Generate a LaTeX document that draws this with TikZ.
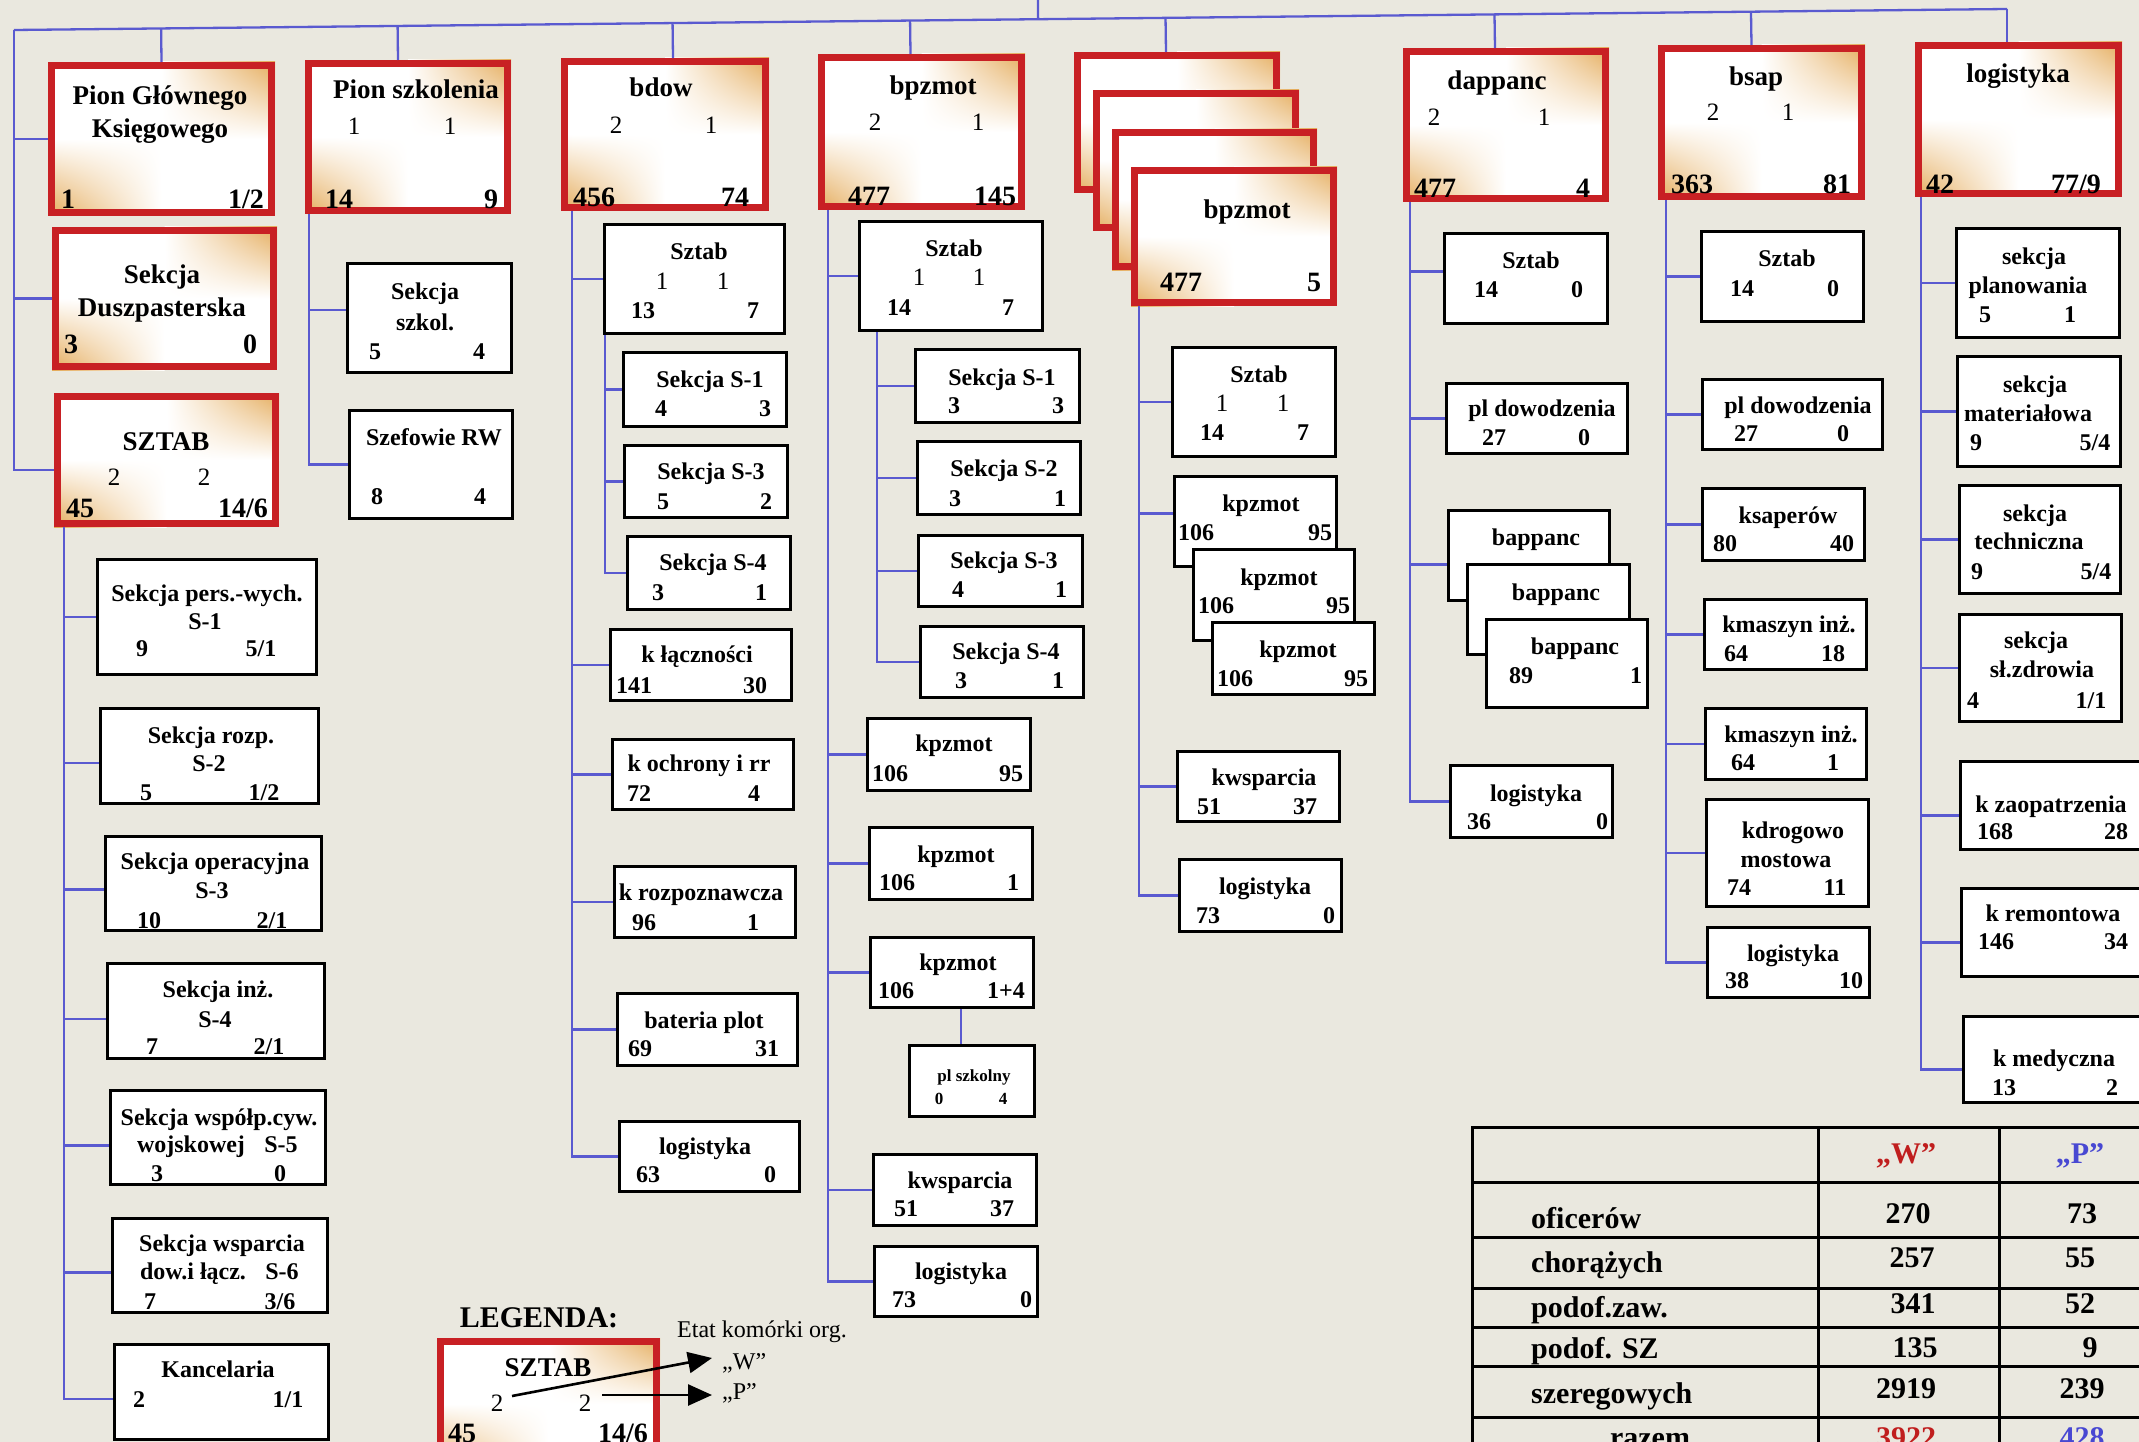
\documentclass[tikz,border=0pt]{standalone}
\usepackage{fontspec}
\setmainfont{Liberation Serif}
\usetikzlibrary{calc,arrows.meta,shadings}
\definecolor{bg}{RGB}{234,232,223}
\definecolor{rb}{RGB}{200,32,36}
\definecolor{gold}{RGB}{228,170,88}
\definecolor{ln}{RGB}{90,90,208}
\definecolor{tred}{RGB}{192,30,30}
\definecolor{tblue}{RGB}{72,72,210}
\newcommand\fsz[1]{\fontsize{#1}{#1}\selectfont}
\newcounter{tn}
\newcommand\Tx[4][bb]{\stepcounter{tn}\node[txt,#1] (t\arabic{tn}) at (#2,#3) {#4};}
\newcommand\RB[5]{%
  \fill[white] (#2,#3) rectangle (#4,#5);
  \shade[upper left=white,upper right=gold,lower left=white,lower right=white] ({(#2+#4)/2},#3) rectangle (#4,{(#3+#5)/2});
  \shade[upper left=white,upper right=white,lower left=gold,lower right=white] (#2,{(#3+#5)/2}) rectangle ({(#2+#4)/2},#5);
  \node[redbox,minimum width={(#4-#2-7)*1pt},minimum height={(#5-#3-7)*1pt}] (#1) at ({(#2+#4)/2},{(#3+#5)/2}) {};}
\newcommand\WB[5]{%
  \node[wbox,minimum width={(#4-#2-3)*1pt},minimum height={(#5-#3-3)*1pt}] (#1) at ({(#2+#4)/2},{(#3+#5)/2}) {};}
\newcommand\br[3][0]{\path (#3.west) ++(0,#1) coordinate (tmpb); \draw[conn] (#2) |- (tmpb);}
\newcommand\tick[2][0]{\path (#2.north) ++(#1,0) coordinate (tmpt); \draw[conn] (tmpt) -- ($(busL)!(tmpt)!(busR)$);}
\tikzset{
  txt/.style={inner sep=0pt, anchor=base},
  bb/.style={font=\bfseries\fsz{24}, yshift=-8pt},
  rg/.style={font=\fsz{25}, yshift=-8.3pt},
  ttl/.style={font=\bfseries\fsz{27}, yshift=-8.5pt},
  big/.style={font=\bfseries\fsz{28}, yshift=-9.3pt},
  sml/.style={font=\bfseries\fsz{17}, yshift=-5.6pt},
  tb/.style={font=\bfseries\fsz{30}, yshift=-10pt},
  lgd/.style={font=\bfseries\fsz{30}, yshift=-10pt},
  et/.style={font=\fsz{24}, yshift=-7.5pt},
  redbox/.style={draw=rb, line width=7pt, inner sep=0pt},
  wbox/.style={draw=black, fill=white, line width=3pt, inner sep=0pt},
  conn/.style={draw=ln, line width=2.3pt},
  tbl/.style={draw=black, line width=3pt},
  arr/.style={draw=black, line width=2.6pt, -{Triangle[length=24pt,width=21pt]}}
}
\begin{document}
\begin{tikzpicture}[x=1pt,y=-1pt]
\useasboundingbox (0,0) rectangle (2139,1442);
\clip (0,0) rectangle (2139,1442);
\fill[bg] (0,0) rectangle (2139,1442);

% ---------- left column ----------
\RB{pgk}{48}{62}{275}{216}
\Tx[ttl]{160}{96}{Pion Głównego}
\Tx[ttl]{160}{129}{Księgowego}
\Tx[big]{68}{199}{1}
\Tx[big]{246}{199}{1/2}
\RB{dusz}{52}{227}{277}{370}
\Tx[ttl]{162}{275}{Sekcja}
\Tx[ttl]{162}{308}{Duszpasterska}
\Tx[big]{71}{344}{3}
\Tx[big]{250}{344}{0}
\RB{sztab}{54}{393}{279}{527}
\Tx[ttl]{166}{442}{SZTAB}
\Tx[rg]{114}{477}{2}
\Tx[rg]{204}{477}{2}
\Tx[big]{80}{508}{45}
\Tx[big]{243}{508}{14/6}

\WB{s1}{96}{558}{318}{676}
\Tx{207}{593}{Sekcja pers.-wych.}
\Tx{205}{621}{S-1}
\Tx{142}{648}{9}
\Tx{261}{648}{5/1}
\WB{s2}{99}{707}{320}{805}
\Tx{211}{735}{Sekcja rozp.}
\Tx{209}{763}{S-2}
\Tx{146}{792}{5}
\Tx{264}{792}{1/2}
\WB{s3}{104}{835}{323}{932}
\Tx{215}{861}{Sekcja operacyjna}
\Tx{212}{890}{S-3}
\Tx{149}{920}{10}
\Tx{272}{920}{2/1}
\WB{s4}{106}{962}{326}{1060}
\Tx{218}{989}{Sekcja inż.}
\Tx{215}{1019}{S-4}
\Tx{152}{1046}{7}
\Tx{269}{1046}{2/1}
\WB{s5}{109}{1089}{327}{1186}
\Tx{219}{1117}{Sekcja współp.cyw.}
\Tx{191}{1144}{wojskowej}
\Tx{281}{1144}{S-5}
\Tx{157}{1173}{3}
\Tx{280}{1173}{0}
\WB{s6}{111}{1217}{329}{1314}
\Tx{222}{1243}{Sekcja wsparcia}
\Tx{193}{1271}{dow.i łącz.}
\Tx{282}{1271}{S-6}
\Tx{150}{1301}{7}
\Tx{280}{1301}{3/6}
\WB{s7}{113}{1343}{330}{1441}
\Tx{218}{1369}{Kancelaria}
\Tx{139}{1399}{2}
\Tx{288}{1399}{1/1}

% ---------- pion szkolenia ----------
\RB{psz}{305}{60}{511}{214}
\Tx[ttl]{416}{90}{Pion szkolenia}
\Tx[rg]{354}{126}{1}
\Tx[rg]{450}{126}{1}
\Tx[big]{339}{199}{14}
\Tx[big]{491}{199}{9}
\WB{sszk}{346}{262}{513}{374}
\Tx{425}{291}{Sekcja}
\Tx{425}{322}{szkol.}
\Tx{375}{351}{5}
\Tx{479}{351}{4}
\WB{szrw}{348}{409}{514}{520}
\Tx{434}{437}{Szefowie RW}
\Tx{377}{496}{8}
\Tx{480}{496}{4}

% ---------- bdow ----------
\RB{bdow}{561}{58}{769}{211}
\Tx[ttl]{661}{88}{bdow}
\Tx[rg]{616}{125}{2}
\Tx[rg]{711}{125}{1}
\Tx[big]{594}{197}{456}
\Tx[big]{735}{197}{74}
\WB{bdsz}{603}{223}{786}{335}
\Tx{699}{251}{Sztab}
\Tx[rg]{662}{281}{1}
\Tx[rg]{723}{281}{1}
\Tx{643}{310}{13}
\Tx{753}{310}{7}
\WB{bds1}{622}{351}{788}{428}
\Tx{710}{379}{Sekcja S-1}
\Tx{661}{408}{4}
\Tx{765}{408}{3}
\WB{bds3}{623}{444}{789}{519}
\Tx{711}{471}{Sekcja S-3}
\Tx{663}{501}{5}
\Tx{766}{501}{2}
\WB{bds4}{626}{535}{792}{611}
\Tx{713}{562}{Sekcja S-4}
\Tx{658}{592}{3}
\Tx{761}{592}{1}
\WB{bdkl}{609}{628}{793}{702}
\Tx{697}{654}{k łączności}
\Tx{634}{685}{141}
\Tx{755}{685}{30}
\WB{bdko}{611}{738}{795}{811}
\Tx{699}{763}{k ochrony i rr}
\Tx{639}{793}{72}
\Tx{754}{793}{4}
\WB{bdkr}{613}{865}{797}{939}
\Tx{701}{892}{k rozpoznawcza}
\Tx{644}{922}{96}
\Tx{753}{922}{1}
\WB{bdbp}{616}{992}{799}{1067}
\Tx{704}{1020}{bateria plot}
\Tx{640}{1048}{69}
\Tx{767}{1048}{31}
\WB{bdlg}{618}{1120}{801}{1193}
\Tx{705}{1146}{logistyka}
\Tx{648}{1174}{63}
\Tx{770}{1174}{0}

% ---------- bpzmot ----------
\RB{bpz}{818}{54}{1025}{210}
\Tx[ttl]{933}{86}{bpzmot}
\Tx[rg]{875}{122}{2}
\Tx[rg]{978}{122}{1}
\Tx[big]{869}{196}{477}
\Tx[big]{995}{196}{145}
\WB{bpsz}{858}{220}{1044}{332}
\Tx{954}{248}{Sztab}
\Tx[rg]{919}{277}{1}
\Tx[rg]{979}{277}{1}
\Tx{899}{307}{14}
\Tx{1008}{307}{7}
\WB{bps1}{914}{348}{1081}{424}
\Tx{1002}{377}{Sekcja S-1}
\Tx{954}{405}{3}
\Tx{1058}{405}{3}
\WB{bps2}{916}{440}{1082}{516}
\Tx{1004}{468}{Sekcja S-2}
\Tx{955}{498}{3}
\Tx{1060}{498}{1}
\WB{bps3}{917}{534}{1084}{608}
\Tx{1004}{560}{Sekcja S-3}
\Tx{958}{589}{4}
\Tx{1061}{589}{1}
\WB{bps4}{919}{625}{1085}{699}
\Tx{1006}{651}{Sekcja S-4}
\Tx{961}{680}{3}
\Tx{1058}{680}{1}
\WB{bpk1}{866}{717}{1032}{792}
\Tx{954}{743}{kpzmot}
\Tx{890}{773}{106}
\Tx{1011}{773}{95}
\WB{bpk2}{868}{826}{1034}{901}
\Tx{956}{854}{kpzmot}
\Tx{897}{882}{106}
\Tx{1013}{882}{1}
\WB{bpk3}{869}{936}{1035}{1009}
\Tx{958}{962}{kpzmot}
\Tx{896}{990}{106}
\Tx{1006}{990}{1+4}
\WB{bppl}{908}{1044}{1036}{1118}
\Tx[sml]{974}{1076}{pl szkolny}
\Tx[sml]{939}{1099}{0}
\Tx[sml]{1003}{1099}{4}
\WB{bpkw}{872}{1153}{1038}{1227}
\Tx{960}{1180}{kwsparcia}
\Tx{906}{1208}{51}
\Tx{1002}{1208}{37}
\WB{bplg}{873}{1245}{1039}{1318}
\Tx{961}{1271}{logistyka}
\Tx{904}{1299}{73}
\Tx{1026}{1299}{0}

% ---------- stacked bpzmot ----------
\RB{stA}{1074}{52}{1280}{193}
\RB{stB}{1093}{90}{1299}{231}
\RB{stC}{1112}{129}{1317}{270}
\RB{stD}{1131}{167}{1337}{306}
\Tx[ttl]{1247}{210}{bpzmot}
\Tx[big]{1181}{282}{477}
\Tx[big]{1314}{282}{5}
\WB{stsz}{1171}{346}{1337}{458}
\Tx{1259}{374}{Sztab}
\Tx[rg]{1222}{403}{1}
\Tx[rg]{1283}{403}{1}
\Tx{1212}{432}{14}
\Tx{1303}{432}{7}
\WB{stk1}{1173}{475}{1338}{568}
\Tx{1261}{503}{kpzmot}
\Tx{1196}{532}{106}
\Tx{1320}{532}{95}
\WB{stk2}{1192}{548}{1356}{642}
\Tx{1279}{577}{kpzmot}
\Tx{1216}{605}{106}
\Tx{1338}{605}{95}
\WB{stk3}{1211}{621}{1376}{696}
\Tx{1298}{649}{kpzmot}
\Tx{1235}{678}{106}
\Tx{1356}{678}{95}
\WB{stkw}{1176}{750}{1341}{823}
\Tx{1264}{777}{kwsparcia}
\Tx{1209}{806}{51}
\Tx{1305}{806}{37}
\WB{stlg}{1178}{858}{1343}{933}
\Tx{1265}{886}{logistyka}
\Tx{1208}{915}{73}
\Tx{1329}{915}{0}

% ---------- dappanc ----------
\RB{dap}{1403}{48}{1609}{202}
\Tx[ttl]{1497}{81}{dappanc}
\Tx[rg]{1434}{117}{2}
\Tx[rg]{1544}{117}{1}
\Tx[big]{1435}{188}{477}
\Tx[big]{1583}{188}{4}
\WB{dasz}{1443}{232}{1609}{325}
\Tx{1531}{261}{Sztab}
\Tx{1486}{289}{14}
\Tx{1577}{289}{0}
\WB{dapl}{1445}{382}{1629}{455}
\Tx{1542}{408}{pl dowodzenia}
\Tx{1494}{437}{27}
\Tx{1584}{437}{0}
\WB{dab1}{1447}{509}{1611}{602}
\Tx{1536}{537}{bappanc}
\WB{dab2}{1466}{563}{1631}{656}
\Tx{1556}{592}{bappanc}
\WB{dab3}{1485}{618}{1649}{709}
\Tx{1575}{646}{bappanc}
\Tx{1521}{675}{89}
\Tx{1636}{675}{1}
\WB{dalg}{1449}{764}{1614}{839}
\Tx{1536}{793}{logistyka}
\Tx{1479}{821}{36}
\Tx{1602}{821}{0}

% ---------- bsap ----------
\RB{bsap}{1658}{45}{1865}{200}
\Tx[ttl]{1756}{77}{bsap}
\Tx[rg]{1713}{112}{2}
\Tx[rg]{1788}{112}{1}
\Tx[big]{1692}{184}{363}
\Tx[big]{1837}{184}{81}
\WB{bssz}{1700}{230}{1865}{323}
\Tx{1787}{258}{Sztab}
\Tx{1742}{288}{14}
\Tx{1833}{288}{0}
\WB{bspl}{1701}{378}{1884}{451}
\Tx{1798}{405}{pl dowodzenia}
\Tx{1746}{433}{27}
\Tx{1843}{433}{0}
\WB{bsks}{1701}{487}{1866}{562}
\Tx{1788}{515}{ksaperów}
\Tx{1725}{543}{80}
\Tx{1842}{543}{40}
\WB{bsm1}{1703}{598}{1868}{671}
\Tx{1789}{624}{kmaszyn inż.}
\Tx{1736}{653}{64}
\Tx{1833}{653}{18}
\WB{bsm2}{1704}{707}{1868}{781}
\Tx{1791}{734}{kmaszyn inż.}
\Tx{1743}{762}{64}
\Tx{1833}{762}{1}
\WB{bsdm}{1705}{798}{1870}{908}
\Tx{1793}{830}{kdrogowo}
\Tx{1786}{859}{mostowa}
\Tx{1739}{887}{74}
\Tx{1835}{887}{11}
\WB{bslg}{1706}{926}{1871}{999}
\Tx{1793}{953}{logistyka}
\Tx{1737}{980}{38}
\Tx{1851}{980}{10}

% ---------- logistyka ----------
\RB{lgs}{1915}{42}{2122}{197}
\Tx[ttl]{2018}{74}{logistyka}
\Tx[big]{1940}{184}{42}
\Tx[big]{2076}{184}{77/9}
\WB{lgpl}{1955}{227}{2121}{339}
\Tx{2034}{257}{sekcja}
\Tx{2028}{285}{planowania}
\Tx{1985}{314}{5}
\Tx{2070}{314}{1}
\WB{lgma}{1956}{355}{2122}{468}
\Tx{2035}{384}{sekcja}
\Tx{2028}{413}{materiałowa}
\Tx{1976}{442}{9}
\Tx{2095}{442}{5/4}
\WB{lgte}{1958}{484}{2122}{595}
\Tx{2035}{513}{sekcja}
\Tx{2029}{541}{techniczna}
\Tx{1977}{571}{9}
\Tx{2096}{571}{5/4}
\WB{lgzd}{1958}{613}{2123}{723}
\Tx{2036}{640}{sekcja}
\Tx{2042}{669}{sł.zdrowia}
\Tx{1973}{700}{4}
\Tx{2091}{700}{1/1}
\WB{lgza}{1959}{760}{2160}{851}
\Tx{2051}{804}{k zaopatrzenia}
\Tx{1995}{831}{168}
\Tx{2116}{831}{28}
\WB{lgre}{1960}{887}{2160}{978}
\Tx{2053}{913}{k remontowa}
\Tx{1996}{941}{146}
\Tx{2116}{941}{34}
\WB{lgme}{1962}{1015}{2160}{1104}
\Tx{2054}{1058}{k medyczna}
\Tx{2004}{1087}{13}
\Tx{2112}{1087}{2}

% ---------- connectors ----------
\coordinate (busL) at (14,30);
\coordinate (busR) at (2007,9);
\coordinate (topE) at (1038,0);
\draw[conn] (busL) -- (busR);
\draw[conn] (topE) -- ($(busL)!(topE)!(busR)$);
\draw[conn] (busR) -- (busR |- lgs.north);
\tick{pgk}
\tick[-10]{psz}
\tick[8]{bdow}
\tick[-11]{bpz}
\tick[-11]{stA}
\tick[-11]{dap}
\tick[-10]{bsap}

\br{busL}{pgk}
\br{busL}{dusz}
\br[10]{busL}{sztab}

\coordinate (szT) at ([xshift=10pt]sztab.south west);
\br{szT}{s1}
\br[7]{szT}{s2}
\br[6]{szT}{s3}
\br[8]{szT}{s4}
\br[8]{szT}{s5}
\br[7]{szT}{s6}
\br[7]{szT}{s7}

\coordinate (pszT) at ([xshift=4pt]psz.south west);
\br[-8]{pszT}{sszk}
\br{pszT}{szrw}

\coordinate (bdT) at ([xshift=11pt]bdow.south west);
\br{bdT}{bdsz}
\br{bdT}{bdkl}
\br{bdT}{bdko}
\br{bdT}{bdkr}
\br{bdT}{bdbp}
\br{bdT}{bdlg}
\coordinate (bdsT) at ([xshift=2pt]bdsz.south west);
\br{bdsT}{bds1}
\br{bdsT}{bds3}
\br{bdsT}{bds4}

\coordinate (bpT) at ([xshift=10pt]bpz.south west);
\br{bpT}{bpsz}
\br{bpT}{bpk1}
\br{bpT}{bpk2}
\br{bpT}{bpk3}
\br{bpT}{bpkw}
\br{bpT}{bplg}
\coordinate (bpsT) at ([xshift=19pt]bpsz.south west);
\br{bpsT}{bps1}
\br{bpsT}{bps2}
\br{bpsT}{bps3}
\br{bpsT}{bps4}
\draw[conn] ([xshift=-11pt]bppl.north) -- ([xshift=-11pt]bppl.north |- bpk3.south);

\coordinate (stT) at ([xshift=8pt]stD.south west);
\br{stT}{stsz}
\br[-8]{stT}{stk1}
\br{stT}{stkw}
\br{stT}{stlg}

\coordinate (daT) at ([xshift=7pt]dap.south west);
\br[-7]{daT}{dasz}
\br{daT}{dapl}
\br[9]{daT}{dab1}
\br{daT}{dalg}

\coordinate (bsT) at ([xshift=8pt]bsap.south west);
\br{bsT}{bssz}
\br{bsT}{bspl}
\br{bsT}{bsks}
\br{bsT}{bsm1}
\br{bsT}{bsm2}
\br{bsT}{bsdm}
\br{bsT}{bslg}

\coordinate (lgT) at ([xshift=6pt]lgs.south west);
\br{lgT}{lgpl}
\br{lgT}{lgma}
\br{lgT}{lgte}
\br{lgT}{lgzd}
\br[10]{lgT}{lgza}
\br[10]{lgT}{lgre}
\br[10]{lgT}{lgme}

% ---------- legend ----------
\Tx[lgd]{539}{1317}{LEGENDA:}
\RB{leg}{437}{1338}{660}{1470}
\Tx[ttl]{548}{1368}{SZTAB}
\node[txt,rg] (lg2a) at (497,1403) {2};
\node[txt,rg] (lg2b) at (585,1403) {2};
\Tx[big]{462}{1433}{45}
\Tx[big]{623}{1433}{14/6}
\Tx[et]{762}{1330}{Etat komórki org.}
\node[txt,et,anchor=base west] (lgW) at (722,1362) {„W”};
\node[txt,et,anchor=base west] (lgP) at (722,1392) {„P”};
\coordinate (a1) at (512,1396);
\coordinate (a2) at (602,1395);
\coordinate (w1) at (712,1358);
\coordinate (p1) at (712,1395);
\draw[arr] (a1) -- (w1);
\draw[arr] (a2) -- (p1);

% ---------- table ----------
\draw[tbl] (1472,1470) -- (1472,1127) -- (2160,1127);
\foreach \yy in {1182,1237,1288,1327,1366,1417} \draw[tbl] (1472,\yy) -- (2160,\yy);
\foreach \xx in {1818,1999} \draw[tbl] (\xx,1127) -- (\xx,1470);
\Tx[tb,text=tred]{1906}{1153}{„W”}
\Tx[tb,text=tblue]{2080}{1153}{„P”}
\Tx[tb,anchor=base west]{1531}{1218}{oficerów}
\Tx[tb,anchor=base west]{1531}{1262}{chorążych}
\Tx[tb,anchor=base west]{1531}{1307}{podof.zaw.}
\Tx[tb,anchor=base west]{1531}{1348}{podof. SZ}
\Tx[tb,anchor=base west]{1531}{1393}{szeregowych}
\Tx[tb]{1650}{1437}{razem}
\Tx[tb]{1908}{1213}{270}
\Tx[tb]{1912}{1257}{257}
\Tx[tb]{1913}{1303}{341}
\Tx[tb]{1915}{1347}{135}
\Tx[tb]{1906}{1388}{2919}
\Tx[tb,text=tred]{1906}{1437}{3922}
\Tx[tb]{2082}{1213}{73}
\Tx[tb]{2080}{1257}{55}
\Tx[tb]{2080}{1303}{52}
\Tx[tb]{2090}{1347}{9}
\Tx[tb]{2082}{1388}{239}
\Tx[tb,text=tblue]{2082}{1437}{428}
\end{tikzpicture}
\end{document}
